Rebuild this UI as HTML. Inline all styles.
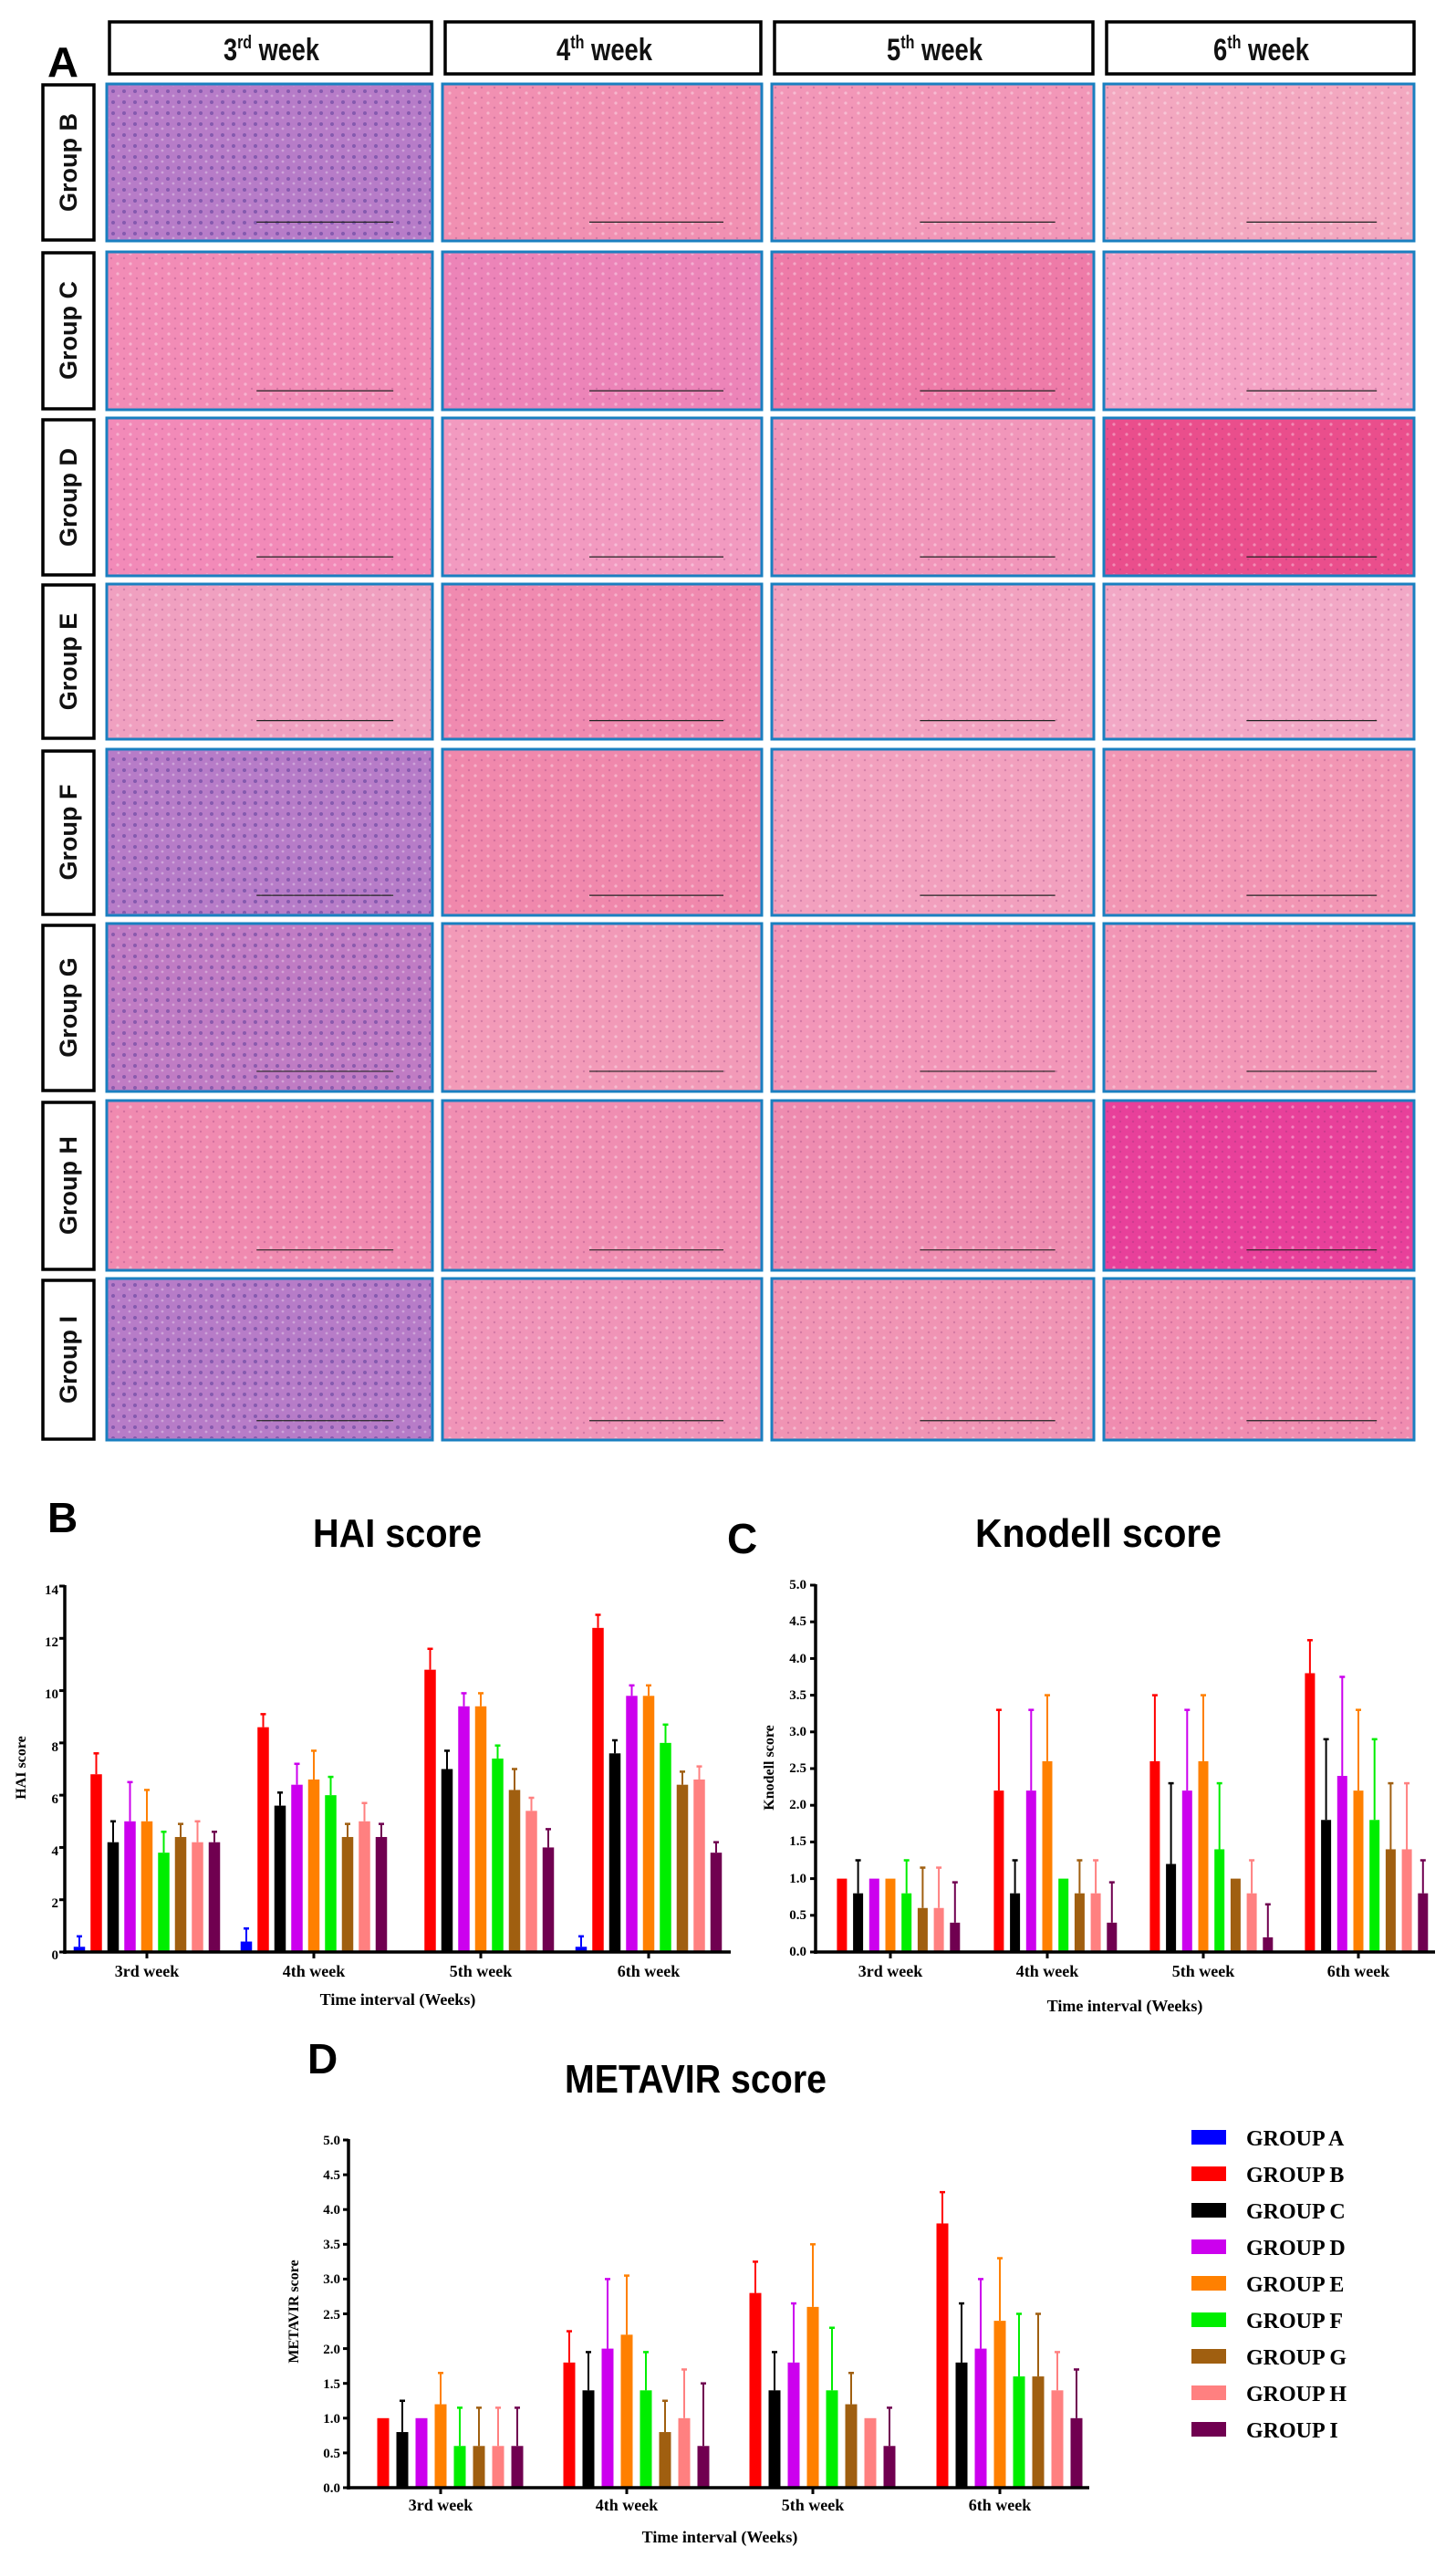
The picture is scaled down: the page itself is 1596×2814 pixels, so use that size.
<!DOCTYPE html>
<html><head><meta charset="utf-8">
<style>
html,body{margin:0;padding:0;background:#fff;}
svg{display:block;}
.hd{font-family:"Liberation Sans Narrow","Liberation Sans",sans-serif;font-weight:bold;font-size:34px;fill:#111;}
.rl{font-family:"Liberation Sans",sans-serif;font-weight:bold;font-size:27px;fill:#111;}
.pl{font-family:"Liberation Sans",sans-serif;font-weight:bold;font-size:46px;fill:#000;}
.tt{font-family:"Liberation Sans Narrow","Liberation Sans",sans-serif;font-weight:bold;font-size:44px;fill:#000;}
.tk{font-family:"Liberation Serif",serif;font-weight:bold;font-size:15px;fill:#000;}
.wk{font-family:"Liberation Serif",serif;font-weight:bold;font-size:18px;fill:#000;}
.yl{font-family:"Liberation Serif",serif;font-weight:bold;font-size:16px;fill:#000;}
.lg{font-family:"Liberation Serif",serif;font-weight:bold;font-size:24px;fill:#000;}
</style></head><body>
<svg id="s" width="1596" height="2814" viewBox="0 0 1596 2814" xmlns="http://www.w3.org/2000/svg">
<defs>
<pattern id="tex" width="14" height="11" patternUnits="userSpaceOnUse">
<circle cx="3" cy="3" r="1.6" fill="#fff" opacity="0.35"/><circle cx="10" cy="8" r="1.2" fill="#7a2a70" opacity="0.25"/></pattern>
<pattern id="texp" width="12" height="12" patternUnits="userSpaceOnUse">
<circle cx="4" cy="4" r="2" fill="#4a3090" opacity="0.45"/><circle cx="10" cy="9" r="1.4" fill="#fff" opacity="0.3"/></pattern>
</defs>
<!-- Panel A -->
<text class="pl" x="52" y="84" font-size="52" textLength="34" lengthAdjust="spacingAndGlyphs">A</text>
<g fill="#fff" stroke="#000" stroke-width="3.5">
<rect x="120" y="24" width="353" height="57"/>
<rect x="488" y="24" width="346" height="57"/>
<rect x="849" y="24" width="349" height="57"/>
<rect x="1213" y="24" width="337" height="57"/>
</g>
<text class="hd" x="245" y="66" textLength="105" lengthAdjust="spacingAndGlyphs">3<tspan font-size="20" dy="-13">rd</tspan><tspan dy="13"> week</tspan></text>
<text class="hd" x="610" y="66" textLength="105" lengthAdjust="spacingAndGlyphs">4<tspan font-size="20" dy="-13">th</tspan><tspan dy="13"> week</tspan></text>
<text class="hd" x="972" y="66" textLength="105" lengthAdjust="spacingAndGlyphs">5<tspan font-size="20" dy="-13">th</tspan><tspan dy="13"> week</tspan></text>
<text class="hd" x="1330" y="66" textLength="105" lengthAdjust="spacingAndGlyphs">6<tspan font-size="20" dy="-13">th</tspan><tspan dy="13"> week</tspan></text>
<g id="cells"></g>
<g fill="#fff" stroke="#000" stroke-width="3.5">
<rect x="47" y="93" width="56" height="170"/>
<rect x="47" y="277" width="56" height="171"/>
<rect x="47" y="460" width="56" height="170"/>
<rect x="47" y="641" width="56" height="168"/>
<rect x="47" y="823" width="56" height="179"/>
<rect x="47" y="1014" width="56" height="181"/>
<rect x="47" y="1208" width="56" height="183"/>
<rect x="47" y="1403" width="56" height="174"/>
</g>
<text class="rl" transform="translate(84,178) rotate(-90)" text-anchor="middle">Group B</text>
<text class="rl" transform="translate(84,362) rotate(-90)" text-anchor="middle">Group C</text>
<text class="rl" transform="translate(84,545) rotate(-90)" text-anchor="middle">Group D</text>
<text class="rl" transform="translate(84,725) rotate(-90)" text-anchor="middle">Group E</text>
<text class="rl" transform="translate(84,912) rotate(-90)" text-anchor="middle">Group F</text>
<text class="rl" transform="translate(84,1104) rotate(-90)" text-anchor="middle">Group G</text>
<text class="rl" transform="translate(84,1299) rotate(-90)" text-anchor="middle">Group H</text>
<text class="rl" transform="translate(84,1490) rotate(-90)" text-anchor="middle">Group I</text>

<!-- Panel B -->
<text class="pl" x="52" y="1679">B</text>
<text class="tt" x="343" y="1695" textLength="185" lengthAdjust="spacingAndGlyphs">HAI score</text>
<text class="tk" x="64" y="1747" text-anchor="end">14</text>
<text class="tk" x="64" y="1804" text-anchor="end">12</text>
<text class="tk" x="64" y="1861" text-anchor="end">10</text>
<text class="tk" x="64" y="1919" text-anchor="end">8</text>
<text class="tk" x="64" y="1976" text-anchor="end">6</text>
<text class="tk" x="64" y="2033" text-anchor="end">4</text>
<text class="tk" x="64" y="2090" text-anchor="end">2</text>
<text class="tk" x="64" y="2147" text-anchor="end">0</text>
<text class="yl" transform="translate(28,1937) rotate(-90)" text-anchor="middle">HAI score</text>
<text class="wk" x="161" y="2166" text-anchor="middle">3rd week</text>
<text class="wk" x="344" y="2166" text-anchor="middle">4th week</text>
<text class="wk" x="527" y="2166" text-anchor="middle">5th week</text>
<text class="wk" x="711" y="2166" text-anchor="middle">6th week</text>
<text class="wk" x="436" y="2197" text-anchor="middle">Time interval (Weeks)</text>

<!-- Panel C -->
<text class="pl" x="797" y="1702">C</text>
<text class="tt" x="1069" y="1695" textLength="270" lengthAdjust="spacingAndGlyphs">Knodell score</text>
<text class="tk" x="884" y="1741" text-anchor="end">5.0</text>
<text class="tk" x="884" y="1781" text-anchor="end">4.5</text>
<text class="tk" x="884" y="1822" text-anchor="end">4.0</text>
<text class="tk" x="884" y="1862" text-anchor="end">3.5</text>
<text class="tk" x="884" y="1902" text-anchor="end">3.0</text>
<text class="tk" x="884" y="1942" text-anchor="end">2.5</text>
<text class="tk" x="884" y="1982" text-anchor="end">2.0</text>
<text class="tk" x="884" y="2022" text-anchor="end">1.5</text>
<text class="tk" x="884" y="2063" text-anchor="end">1.0</text>
<text class="tk" x="884" y="2103" text-anchor="end">0.5</text>
<text class="tk" x="884" y="2143" text-anchor="end">0.0</text>
<text class="yl" transform="translate(848,1937) rotate(-90)" text-anchor="middle">Knodell score</text>
<text class="wk" x="976" y="2166" text-anchor="middle">3rd week</text>
<text class="wk" x="1148" y="2166" text-anchor="middle">4th week</text>
<text class="wk" x="1319" y="2166" text-anchor="middle">5th week</text>
<text class="wk" x="1489" y="2166" text-anchor="middle">6th week</text>
<text class="wk" x="1233" y="2204" text-anchor="middle">Time interval (Weeks)</text>

<!-- Panel D -->
<text class="pl" x="337" y="2272">D</text>
<text class="tt" x="619" y="2293" textLength="287" lengthAdjust="spacingAndGlyphs">METAVIR score</text>
<text class="yl" transform="translate(327,2533) rotate(-90)" text-anchor="middle">METAVIR score</text>
<text class="tk" x="373" y="2350" text-anchor="end">5.0</text>
<text class="tk" x="373" y="2388" text-anchor="end">4.5</text>
<text class="tk" x="373" y="2426" text-anchor="end">4.0</text>
<text class="tk" x="373" y="2464" text-anchor="end">3.5</text>
<text class="tk" x="373" y="2502" text-anchor="end">3.0</text>
<text class="tk" x="373" y="2541" text-anchor="end">2.5</text>
<text class="tk" x="373" y="2579" text-anchor="end">2.0</text>
<text class="tk" x="373" y="2617" text-anchor="end">1.5</text>
<text class="tk" x="373" y="2655" text-anchor="end">1.0</text>
<text class="tk" x="373" y="2693" text-anchor="end">0.5</text>
<text class="tk" x="373" y="2731" text-anchor="end">0.0</text>
<text class="wk" x="483" y="2751" text-anchor="middle">3rd week</text>
<text class="wk" x="687" y="2751" text-anchor="middle">4th week</text>
<text class="wk" x="891" y="2751" text-anchor="middle">5th week</text>
<text class="wk" x="1096" y="2751" text-anchor="middle">6th week</text>
<text class="wk" x="789" y="2786" text-anchor="middle">Time interval (Weeks)</text>

<!-- Legend -->
<rect x="1306" y="2334" width="38" height="16" fill="#0000ff"/><text class="lg" x="1366" y="2351">GROUP A</text>
<rect x="1306" y="2374" width="38" height="16" fill="#ff0000"/><text class="lg" x="1366" y="2391">GROUP B</text>
<rect x="1306" y="2414" width="38" height="16" fill="#000000"/><text class="lg" x="1366" y="2431">GROUP C</text>
<rect x="1306" y="2454" width="38" height="16" fill="#cc00ee"/><text class="lg" x="1366" y="2471">GROUP D</text>
<rect x="1306" y="2494" width="38" height="16" fill="#ff8000"/><text class="lg" x="1366" y="2511">GROUP E</text>
<rect x="1306" y="2534" width="38" height="16" fill="#00ee00"/><text class="lg" x="1366" y="2551">GROUP F</text>
<rect x="1306" y="2574" width="38" height="16" fill="#a05f10"/><text class="lg" x="1366" y="2591">GROUP G</text>
<rect x="1306" y="2614" width="38" height="16" fill="#ff8080"/><text class="lg" x="1366" y="2631">GROUP H</text>
<rect x="1306" y="2654" width="38" height="16" fill="#700050"/><text class="lg" x="1366" y="2671">GROUP I</text>
<g id="bars"></g>
</svg>
<script>
(function(){
var NS="http://www.w3.org/2000/svg";
function el(p,t,a){var e=document.createElementNS(NS,t);for(var k in a)e.setAttribute(k,a[k]);p.appendChild(e);return e;}
var cells=document.getElementById('cells');
var cols=[[117,357],[485,350],[846,353],[1210,340]];
var rows=[[92,172],[276,173],[458,173],[640,170],[821,182],[1012,184],[1206,186],[1401,177]];
var Q="#b77cc8";
var colr=[
[Q,"#f190b2","#f297b8","#f3a8c0"],
["#f28cb6","#ec84b8","#ee7ba8","#f4a2c4"],
["#f28ab8","#f29ac0","#f196ba","#ea4e8c"],
["#f0a0c0","#f08ab0","#f2a2c0","#f2a8c6"],
[Q,"#f088ac","#f2a0be","#f296b4"],
["#c07cc4","#f29ab8","#f296b8","#f296b6"],
["#f08ab0","#f08eb2","#ee8cb0","#e8409a"],
[Q,"#f094b8","#f094b4","#f08cb0"]];
for(var r=0;r<8;r++)for(var c=0;c<4;c++){
 var x=cols[c][0],w=cols[c][1],y=rows[r][0],h=rows[r][1],f=colr[r][c];
 el(cells,'rect',{x:x,y:y,width:w,height:h,fill:f,stroke:"#1a7fc0","stroke-width":3});
 el(cells,'rect',{x:x+2,y:y+2,width:w-4,height:h-4,fill:(f==Q||f=="#c07cc4")?"url(#texp)":"url(#tex)"});
 el(cells,'line',{x1:x+w*0.46,x2:x+w*0.88,y1:y+h*0.88,y2:y+h*0.88,stroke:"#222","stroke-width":1.2});
}
var g=document.getElementById('bars');
var C=["#0000ff","#ff0000","#000000","#cc00ee","#ff8000","#00ee00","#a05f10","#ff8080","#700050"];
function chart(o){
 var sc=(o.y0-o.ytop)/o.max;
 for(var i=0;i<4;i++){
  for(var j=0;j<9;j++){
   var d=o.d[i][j]; if(!d)continue; var v=d[0],e=d[1];
   var cx=o.cx[i]+(j-4)*o.st;
   var yt=o.y0-v*sc;
   if(v>0) el(g,'rect',{x:cx-o.bw/2,y:yt,width:o.bw,height:o.y0-yt,fill:C[j]});
   if(e>v){var ye=o.y0-e*sc;
    el(g,'line',{x1:cx,x2:cx,y1:yt,y2:ye,stroke:C[j],"stroke-width":2});
    el(g,'line',{x1:cx-3,x2:cx+3,y1:ye,y2:ye,stroke:C[j],"stroke-width":2.5});}
  }
  el(g,'line',{x1:o.cx[i],x2:o.cx[i],y1:o.y0,y2:o.y0+7,stroke:"#000","stroke-width":3});
 }
 el(g,'line',{x1:o.ax,x2:o.ax,y1:o.ytop-1,y2:o.y0+2,stroke:"#000","stroke-width":3.5});
 el(g,'line',{x1:o.ax-2,x2:o.xe,y1:o.y0,y2:o.y0,stroke:"#000","stroke-width":3.5});
 for(var t=0;t<=o.max+1e-9;t+=o.tstep){var yy=o.y0-t*sc;el(g,'line',{x1:o.ax-6,x2:o.ax,y1:yy,y2:yy,stroke:"#000","stroke-width":3});}
}
chart({ax:71,y0:2139,ytop:1738,max:14,tstep:2,xe:801,cx:[161,344,527,711],st:18.5,bw:12.5,d:[
[[0.2,0.6],[6.8,7.6],[4.2,5],[5,6.5],[5,6.2],[3.8,4.6],[4.4,4.9],[4.2,5],[4.2,4.6]],
[[0.4,0.9],[8.6,9.1],[5.6,6.1],[6.4,7.2],[6.6,7.7],[6,6.7],[4.4,4.9],[5,5.7],[4.4,4.9]],
[null,[10.8,11.6],[7,7.7],[9.4,9.9],[9.4,9.9],[7.4,7.9],[6.2,7],[5.4,5.9],[4,4.7]],
[[0.2,0.6],[12.4,12.9],[7.6,8.1],[9.8,10.2],[9.8,10.2],[8,8.7],[6.4,6.9],[6.6,7.1],[3.8,4.2]]]});
chart({ax:894,y0:2139,ytop:1737,max:5,tstep:0.5,xe:1573,cx:[976,1148,1319,1489],st:17.7,bw:11,d:[
[null,[1,1],[0.8,1.25],[1,1],[1,1],[0.8,1.25],[0.6,1.15],[0.6,1.15],[0.4,0.95]],
[null,[2.2,3.3],[0.8,1.25],[2.2,3.3],[2.6,3.5],[1,1],[0.8,1.25],[0.8,1.25],[0.4,0.95]],
[null,[2.6,3.5],[1.2,2.3],[2.2,3.3],[2.6,3.5],[1.4,2.3],[1,1],[0.8,1.25],[0.2,0.65]],
[null,[3.8,4.25],[1.8,2.9],[2.4,3.75],[2.2,3.3],[1.8,2.9],[1.4,2.3],[1.4,2.3],[0.8,1.25]]]});
chart({ax:382,y0:2726,ytop:2345,max:5,tstep:0.5,xe:1194,cx:[483,687,891,1096],st:21,bw:13,d:[
[null,[1,1],[0.8,1.25],[1,1],[1.2,1.65],[0.6,1.15],[0.6,1.15],[0.6,1.15],[0.6,1.15]],
[null,[1.8,2.25],[1.4,1.95],[2,3],[2.2,3.05],[1.4,1.95],[0.8,1.25],[1,1.7],[0.6,1.5]],
[null,[2.8,3.25],[1.4,1.95],[1.8,2.65],[2.6,3.5],[1.4,2.3],[1.2,1.65],[1,1],[0.6,1.15]],
[null,[3.8,4.25],[1.8,2.65],[2,3],[2.4,3.3],[1.6,2.5],[1.6,2.5],[1.4,1.95],[1,1.7]]]});
})();
</script>
</body></html>
